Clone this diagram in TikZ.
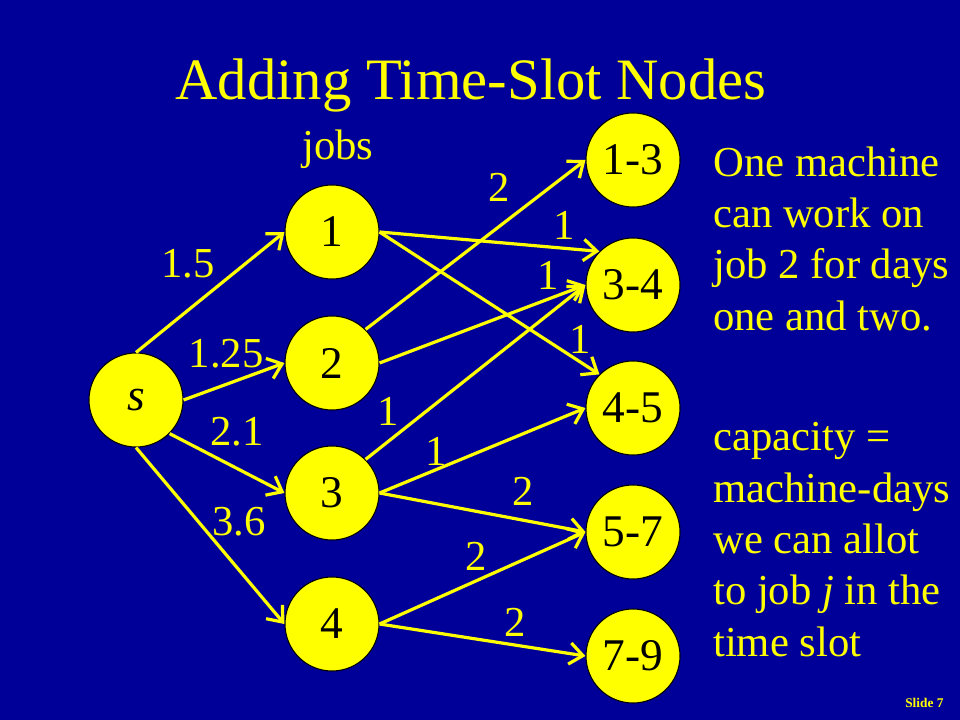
\documentclass[tikz,border=0pt]{standalone}
\usepackage{fontspec}
\setmainfont{Liberation Serif}
\usetikzlibrary{arrows.meta}
\definecolor{bgblue}{RGB}{0,0,153}
\definecolor{nodeyellow}{RGB}{255,255,0}
\begin{document}
\begin{tikzpicture}[x=0.75pt,y=-0.75pt,
  vtx/.style={circle,fill=nodeyellow,draw=black,line width=0.8pt,minimum size=70.5pt,inner sep=0pt,
    font=\fontsize{34}{40}\selectfont,text=black},
  edge/.style={draw=nodeyellow,line width=2.4pt,-{Straight Barb[length=10pt,width=16pt]}},
  lbl/.style={text=nodeyellow,inner sep=0pt,font=\fontsize{32}{38}\selectfont},
  txt/.style={text=nodeyellow,inner sep=0pt,font=\fontsize{32}{38.5}\selectfont,align=left,anchor=base west}
]
\fill[bgblue] (0,0) rectangle (960,720);
\useasboundingbox (0,0) rectangle (960,720);

% title
\node[text=nodeyellow,inner sep=0pt,anchor=base,font=\fontsize{44}{53}\selectfont] (title) at (471,100) {Adding Time-Slot Nodes};
\node[text=nodeyellow,inner sep=0pt,anchor=base,font=\fontsize{32}{38}\selectfont] (jobs) at (338,160) {jobs};

% nodes
\node[vtx] (s) at (136,400) {\textit{s}};
\node[vtx] (j1) at (332,232) {1};
\node[vtx] (j2) at (332,363) {2};
\node[vtx] (j3) at (332,493) {3};
\node[vtx] (j4) at (332,624) {4};
\node[vtx] (t13) at (633,160) {1-3};
\node[vtx] (t34) at (633,285) {3-4};
\node[vtx] (t45) at (633,408) {4-5};
\node[vtx] (t57) at (633,532) {5-7};
\node[vtx] (t79) at (633,656) {7-9};

% edges
\draw[edge] (s.north) -- (j1.west);
\draw[edge] (s.east) -- (j2.west);
\draw[edge] (s.south east) -- (j3.west);
\draw[edge] (s.south) -- (j4.west);
\draw[edge] (j1.east) -- (t34.north west);
\draw[edge] (j1.east) -- (t45.north west);
\draw[edge] (j2.north east) -- (t13.west);
\draw[edge] (j2.east) -- (t34.west);
\draw[edge] (j3.north east) -- (t34.west);
\draw[edge] (j3.east) -- (t45.west);
\draw[edge] (j3.east) -- (t57.west);
\draw[edge] (j4.east) -- (t57.west);
\draw[edge] (j4.east) -- (t79.west);

% edge labels
\node[lbl] (l1) at (188,264) {1.5};
\node[lbl] (l2) at (226,354) {1.25};
\node[lbl] (l3) at (237,432) {2.1};
\node[lbl] (l4) at (239,522) {3.6};
\node[lbl] (l5) at (499,187) {2};
\node[lbl] (l6) at (564,225) {1};
\node[lbl] (l7) at (548,275) {1};
\node[lbl] (l8) at (580,339) {1};
\node[lbl] (l9) at (388,411) {1};
\node[lbl] (l10) at (436,451) {1};
\node[lbl] (l11) at (523,491) {2};
\node[lbl] (l12) at (476,556) {2};
\node[lbl] (l13) at (515,622) {2};

% side texts (base anchor = last line baseline)
\node[txt] (note1) at (713,330) {One machine\\can work on\\job 2 for days\\one and two.};
\node[txt] (note2) at (713,656) {capacity =\\machine-days\\we can allot\\to job \textit{j} in the\\time slot};

\node[text=nodeyellow,inner sep=0pt,anchor=base west,font=\fontsize{10}{12}\selectfont\bfseries] (slide) at (905,707) {Slide 7};
\end{tikzpicture}
\end{document}
